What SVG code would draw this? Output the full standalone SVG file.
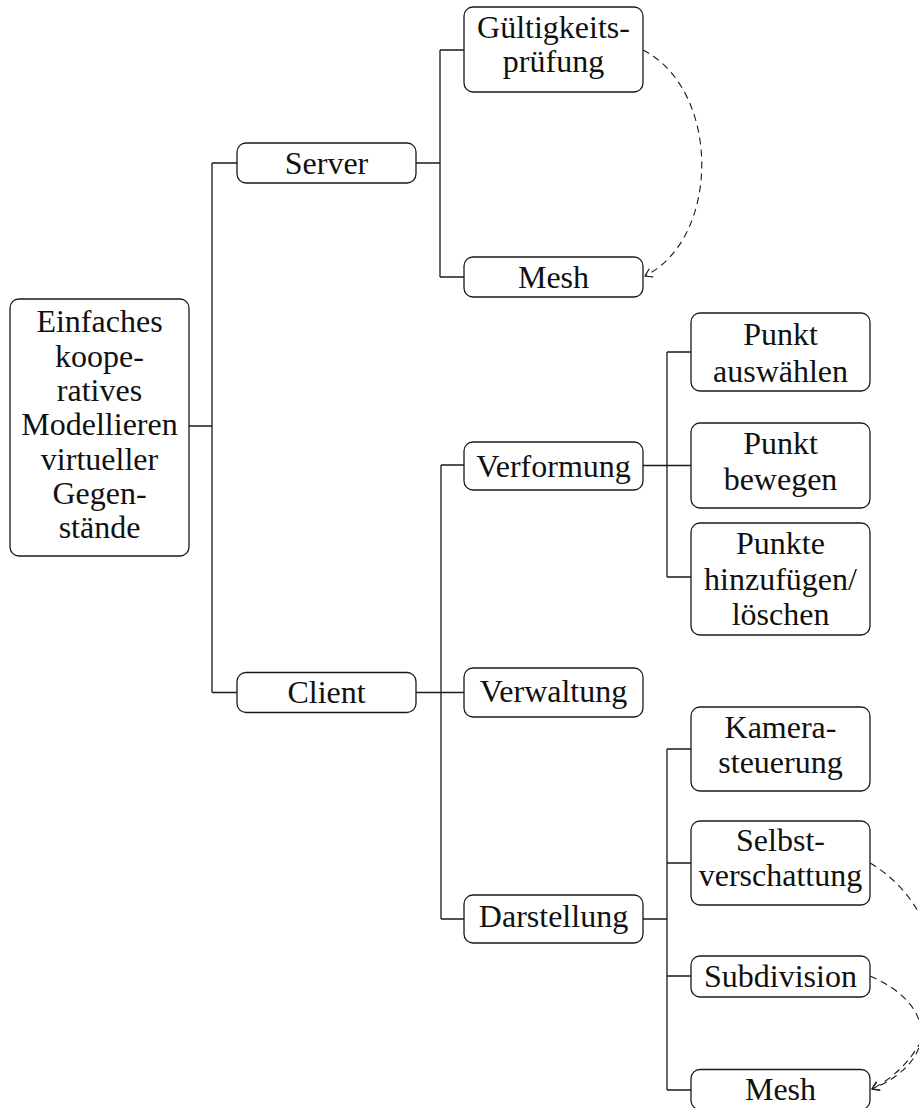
<svg xmlns="http://www.w3.org/2000/svg" width="919" height="1108" viewBox="0 0 919 1108">
  <style>
    .box { fill: #ffffff; stroke: #1a1a1a; stroke-width: 1.3; }
    .lbl { font-family: "Liberation Serif", "Times New Roman", serif; font-size: 32px; fill: #111111; text-anchor: middle; }
    .tree { fill: none; stroke: #1a1a1a; stroke-width: 1.3; }
    .ref { fill: none; stroke: #1a1a1a; stroke-width: 1.1; stroke-dasharray: 7 5; marker-end: url(#tip); }
  </style>
  <defs>
    <marker id="tip" viewBox="-10 -6 12 12" refX="0" refY="0" markerWidth="12" markerHeight="12" markerUnits="userSpaceOnUse" orient="auto">
      <path d="M-7,-4.5 Q-2,-1.5 0,0 Q-2,1.5 -7,4.5" fill="none" stroke="#1a1a1a" stroke-width="1.1"/>
    </marker>
  </defs>
  <rect width="919" height="1108" fill="#ffffff"/>

  <!-- tree connectors -->
  <g id="connectors">
    <!-- root level -->
    <path class="tree" d="M189,426 H212 M212,163 V692.5 M212,163 H237 M212,692.5 H237"/>
    <!-- server branch -->
    <path class="tree" d="M416,163 H440 M440,50 V277 M440,50 H464 M440,277 H464"/>
    <!-- client branch -->
    <path class="tree" d="M416,692.5 H441 M441,465 V919 M441,465 H464 M441,692.5 H464 M441,919 H464"/>
    <!-- deformation branch -->
    <path class="tree" d="M643,465.5 H667 M667,352 V577 M667,352 H691 M667,465.5 H691 M667,577 H691"/>
    <!-- rendering branch -->
    <path class="tree" d="M643,919 H667 M667,749 V1090 M667,749 H691 M667,863 H691 M667,976 H691 M667,1090 H691"/>
    <!-- dashed dependencies -->
    <path class="ref" d="M643,50 C721,90 721,238 645,276"/>
    <path class="ref" d="M870,863 C958,915 958,1045 872,1089"/>
    <path class="ref" d="M870,976 C938,1005 938,1062 872,1089"/>
  </g>

  <g id="root">
    <rect class="box" x="10" y="299" width="179" height="257" rx="9"/>
    <text class="lbl" x="99.5" y="332">Einfaches</text>
    <text class="lbl" x="99.5" y="366.5">koope-</text>
    <text class="lbl" x="99.5" y="400.5">ratives</text>
    <text class="lbl" x="99.5" y="435">Modellieren</text>
    <text class="lbl" x="99.5" y="469.5">virtueller</text>
    <text class="lbl" x="99.5" y="504">Gegen-</text>
    <text class="lbl" x="99.5" y="538">stände</text>
  </g>

  <g id="server">
    <rect class="box" x="237" y="143" width="179" height="40" rx="9"/>
    <text class="lbl" x="326.5" y="173.5">Server</text>
  </g>

  <g id="validation">
    <rect class="box" x="464" y="7" width="179" height="85" rx="9"/>
    <text class="lbl" x="553.5" y="37.5">Gültigkeits-</text>
    <text class="lbl" x="553.5" y="72">prüfung</text>
  </g>

  <g id="server-mesh">
    <rect class="box" x="464" y="257" width="179" height="40" rx="9"/>
    <text class="lbl" x="553.5" y="287.5">Mesh</text>
  </g>

  <g id="client">
    <rect class="box" x="237" y="672.5" width="179" height="40" rx="9"/>
    <text class="lbl" x="326.5" y="703">Client</text>
  </g>

  <g id="deformation">
    <rect class="box" x="464" y="442" width="179" height="48" rx="9"/>
    <text class="lbl" x="553.5" y="476.5">Verformung</text>
  </g>

  <g id="select-point">
    <rect class="box" x="691" y="313" width="179" height="78" rx="9"/>
    <text class="lbl" x="780.5" y="345">Punkt</text>
    <text class="lbl" x="780.5" y="381.5">auswählen</text>
  </g>

  <g id="move-point">
    <rect class="box" x="691" y="423" width="179" height="85" rx="9"/>
    <text class="lbl" x="780.5" y="454">Punkt</text>
    <text class="lbl" x="780.5" y="490">bewegen</text>
  </g>

  <g id="add-remove-points">
    <rect class="box" x="691" y="523" width="179" height="112" rx="9"/>
    <text class="lbl" x="780.5" y="554">Punkte</text>
    <text class="lbl" x="780.5" y="590">hinzufügen/</text>
    <text class="lbl" x="780.5" y="625">löschen</text>
  </g>

  <g id="management">
    <rect class="box" x="464" y="668" width="179" height="49" rx="9"/>
    <text class="lbl" x="553.5" y="702">Verwaltung</text>
  </g>

  <g id="rendering">
    <rect class="box" x="464" y="895" width="179" height="48" rx="9"/>
    <text class="lbl" x="553.5" y="927">Darstellung</text>
  </g>

  <g id="camera">
    <rect class="box" x="691" y="707" width="179" height="84" rx="9"/>
    <text class="lbl" x="780.5" y="737.5">Kamera-</text>
    <text class="lbl" x="780.5" y="773">steuerung</text>
  </g>

  <g id="self-shadowing">
    <rect class="box" x="691" y="821" width="179" height="84" rx="9"/>
    <text class="lbl" x="780.5" y="851">Selbst-</text>
    <text class="lbl" x="780.5" y="886">verschattung</text>
  </g>

  <g id="subdivision">
    <rect class="box" x="691" y="956" width="179" height="41" rx="9"/>
    <text class="lbl" x="780.5" y="987">Subdivision</text>
  </g>

  <g id="client-mesh">
    <rect class="box" x="691" y="1069.5" width="179" height="40" rx="9"/>
    <text class="lbl" x="780.5" y="1100">Mesh</text>
  </g>
</svg>
